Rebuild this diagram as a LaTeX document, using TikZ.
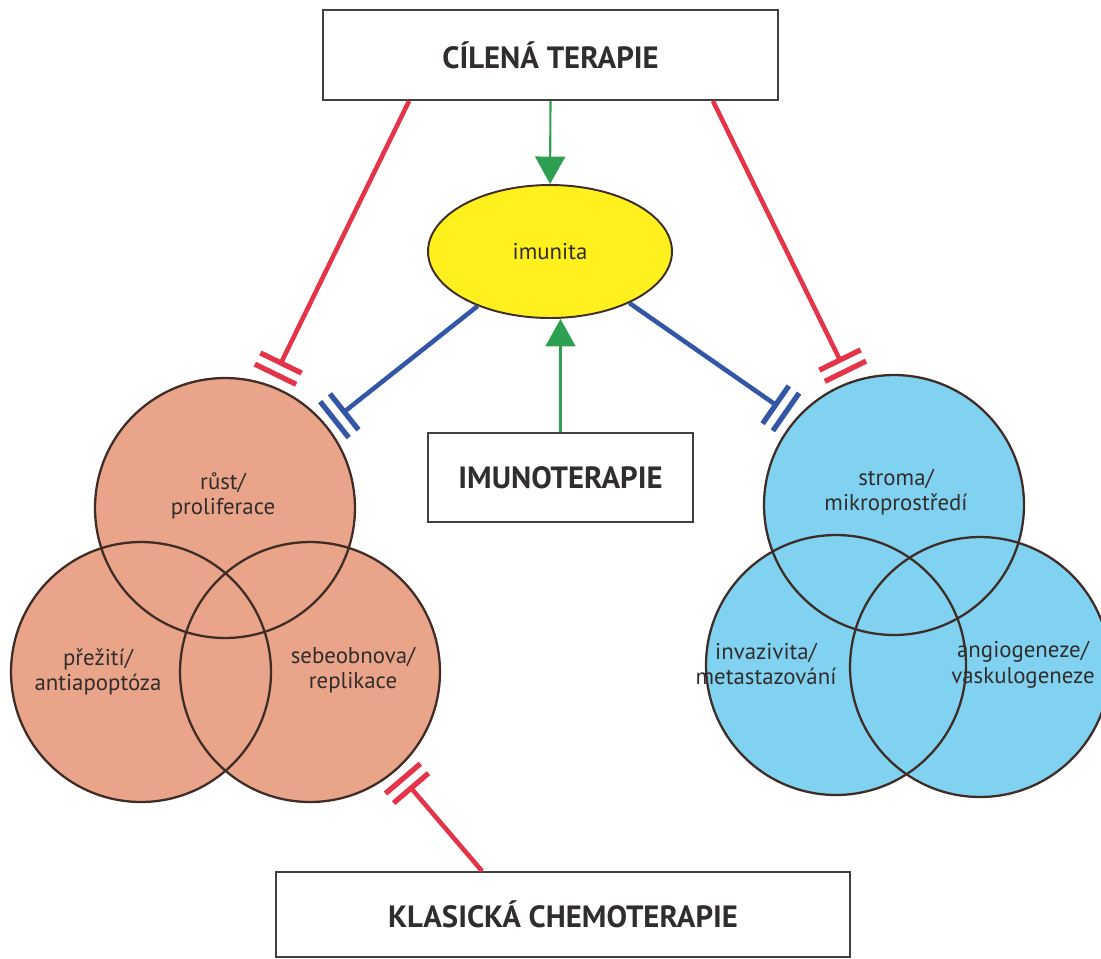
\documentclass[tikz,border=0pt]{standalone}
\usepackage{fontspec}
\setmainfont{PT Sans}
\usetikzlibrary{shapes.geometric}
\usetikzlibrary{arrows.meta}
\usetikzlibrary{decorations.markings}
\usetikzlibrary{calc}
\definecolor{losos}{RGB}{234,164,138}
\definecolor{nebe}{RGB}{128,210,240}
\definecolor{zluta}{RGB}{255,240,30}
\definecolor{cervena}{RGB}{228,52,72}
\definecolor{modra}{RGB}{52,86,166}
\definecolor{zelena}{RGB}{46,160,82}
\definecolor{obrys}{RGB}{62,44,38}
\definecolor{pismo}{RGB}{50,45,45}
\tikzset{
  box/.style={draw=black!75, line width=1.1pt, fill=white, inner sep=0pt, font=\fontsize{17.5}{20}\selectfont\bfseries, text=pismo},
  kruh/.style={circle, minimum size=5.2cm, inner sep=0pt},
  popis/.style={align=center, font=\fontsize{13}{14.5}\selectfont, text=pismo},
  inh/.style={#1, line width=2.6pt, postaction={decorate, decoration={markings,
    mark=at position 1 with {\draw[#1,line width=3pt] (0,-0.46cm) -- (0,0.46cm) (0.25cm,-0.46cm) -- (0.25cm,0.46cm);}}}},
  akt/.style={zelena, line width=1.2pt, -{Triangle[width=0.6cm,length=0.55cm]}}
}

\begin{document}
\begin{tikzpicture}[x=0.02cm,y=-0.02cm]
		\useasboundingbox (0,0) rectangle (1101,958);
		% kruhy
		\node[kruh,fill=losos] (R) at (225,508) {};
		\node[kruh,fill=losos] (P) at (141,672) {};
		\node[kruh,fill=losos] (S) at (310,672) {};
		\node[kruh,fill=nebe] (St) at (894,505) {};
		\node[kruh,fill=nebe] (In) at (836,665) {};
		\node[kruh,fill=nebe] (An) at (980,667) {};
		\foreach \k in {R,P,S,St,In,An}
			\draw[obrys,line width=1.3pt] (\k) circle[radius=2.6cm];
		\node[popis] (tR) at (223,496) {růst/\\proliferace};
		\node[popis] (tP) at (98,672) {přežití/\\antiapoptóza};
		\node[popis] (tS) at (353,670) {sebeobnova/\\replikace};
		\node[popis] (tSt) at (896,492) {stroma/\\mikroprostředí};
		\node[popis] (tIn) at (766,664) {invazivita/\\metastazování};
		\node[popis] (tAn) at (1023,665) {angiogeneze/\\vaskulogeneze};
		% terapie
		\node[box,minimum width=9.1cm,minimum height=1.8cm] (CT) at (550.5,55) {CÍLENÁ TERAPIE};
		\node[box,minimum width=5.3cm,minimum height=1.78cm] (IT) at (560.5,477.5) {IMUNOTERAPIE};
		\node[box,minimum width=11.48cm,minimum height=1.7cm] (KC) at (563,914.5) {KLASICKÁ CHEMOTERAPIE};
		\node[ellipse,draw=obrys,line width=1.1pt,fill=zluta,minimum width=4.88cm,minimum height=2.66cm,inner sep=0pt,popis] (IM) at (550,251.5) {imunita};
		\coordinate (tL) at (281,363);
		\coordinate (bL) at (344,412);
		\coordinate (tP2) at (840,360);
		\coordinate (bP) at (776,405);
		\coordinate (kL) at (411,788);
		\draw[inh=cervena] ($(CT.south west)+(87,0)$) -- (tL);
		\draw[inh=cervena] ($(CT.south east)+(-66,0)$) -- (tP2);
		\draw[inh=modra] (IM.217) -- (bL);
		\draw[inh=modra] (IM.327) -- (bP);
		\draw[inh=cervena] ($(KC.north)+(-81,0)$) -- (kL);
		\draw[akt] (CT.south) -- (IM.north);
		\draw[akt] (IT.north) -- (IT.north |- IM.south);
\end{tikzpicture}
\end{document}
